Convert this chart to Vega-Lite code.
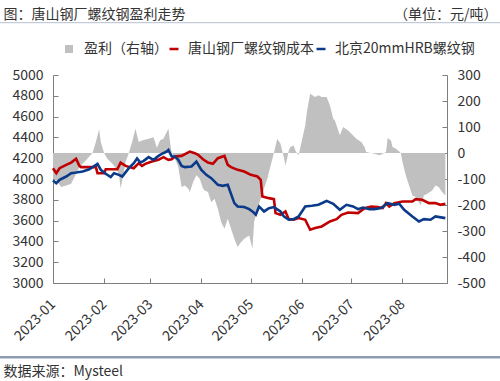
{
  "$schema": "https://vega.github.io/schema/vega-lite/v6.json",
  "width": 394,
  "height": 208,
  "autosize": "none",
  "padding": {"left": 53, "top": 75, "right": 53, "bottom": 98},
  "background": "white",
  "config": {
    "font": "Noto Sans CJK SC",
    "view": {"stroke": null},
    "axis": {
      "labelFont": "Noto Sans CJK SC",
      "labelFontSize": 14,
      "labelColor": "#333333",
      "titleFont": "Noto Sans CJK SC",
      "titleFontSize": 14,
      "titleFontWeight": "normal",
      "titleColor": "#333333",
      "domainColor": "#7f7f7f",
      "tickColor": "#7f7f7f",
      "grid": false,
      "tickSize": -5,
      "labelPadding": 15
    },
    "legend": {
      "labelFont": "Noto Sans CJK SC",
      "labelFontSize": 14,
      "labelColor": "#333333"
    }
  },
  "datasets": {
    "profit": [
      {"date": "2023/01/01", "profit": -100}, {"date": "2023/01/03", "profit": -105}, {"date": "2023/01/06", "profit": -131},
      {"date": "2023/01/09", "profit": -125}, {"date": "2023/01/12", "profit": -118}, {"date": "2023/01/14", "profit": -93},
      {"date": "2023/01/17", "profit": -54}, {"date": "2023/01/21", "profit": -28}, {"date": "2023/01/25", "profit": 0},
      {"date": "2023/01/27", "profit": 42}, {"date": "2023/01/29", "profit": 91}, {"date": "2023/01/30", "profit": 42},
      {"date": "2023/02/01", "profit": 0}, {"date": "2023/02/03", "profit": -22}, {"date": "2023/02/06", "profit": -41},
      {"date": "2023/02/08", "profit": -58}, {"date": "2023/02/10", "profit": -80}, {"date": "2023/02/11", "profit": -137},
      {"date": "2023/02/13", "profit": -73}, {"date": "2023/02/14", "profit": -35}, {"date": "2023/02/16", "profit": 0},
      {"date": "2023/02/18", "profit": 42}, {"date": "2023/02/20", "profit": 93}, {"date": "2023/02/22", "profit": 42},
      {"date": "2023/02/24", "profit": 48}, {"date": "2023/02/28", "profit": 55}, {"date": "2023/03/03", "profit": 61},
      {"date": "2023/03/05", "profit": 20}, {"date": "2023/03/07", "profit": 49}, {"date": "2023/03/09", "profit": 55},
      {"date": "2023/03/12", "profit": 93}, {"date": "2023/03/13", "profit": 42}, {"date": "2023/03/14", "profit": 0},
      {"date": "2023/03/16", "profit": -22}, {"date": "2023/03/18", "profit": -54}, {"date": "2023/03/20", "profit": -131},
      {"date": "2023/03/22", "profit": -125}, {"date": "2023/03/24", "profit": -137}, {"date": "2023/03/25", "profit": -150},
      {"date": "2023/03/27", "profit": -112}, {"date": "2023/03/29", "profit": -86}, {"date": "2023/03/31", "profit": -99},
      {"date": "2023/04/02", "profit": -137}, {"date": "2023/04/03", "profit": -144}, {"date": "2023/04/05", "profit": -150},
      {"date": "2023/04/07", "profit": -189}, {"date": "2023/04/09", "profit": -176}, {"date": "2023/04/11", "profit": -214},
      {"date": "2023/04/13", "profit": -265}, {"date": "2023/04/15", "profit": -291}, {"date": "2023/04/17", "profit": -253},
      {"date": "2023/04/19", "profit": -291}, {"date": "2023/04/21", "profit": -330}, {"date": "2023/04/23", "profit": -362},
      {"date": "2023/04/25", "profit": -343}, {"date": "2023/04/27", "profit": -330}, {"date": "2023/04/30", "profit": -317},
      {"date": "2023/05/02", "profit": -368}, {"date": "2023/05/03", "profit": -265}, {"date": "2023/05/05", "profit": -214},
      {"date": "2023/05/07", "profit": -176}, {"date": "2023/05/09", "profit": -137}, {"date": "2023/05/11", "profit": -99},
      {"date": "2023/05/12", "profit": -73}, {"date": "2023/05/15", "profit": 0}, {"date": "2023/05/17", "profit": 55},
      {"date": "2023/05/19", "profit": 36}, {"date": "2023/05/20", "profit": 10}, {"date": "2023/05/21", "profit": -15},
      {"date": "2023/05/22", "profit": -48}, {"date": "2023/05/23", "profit": -22}, {"date": "2023/05/24", "profit": 10},
      {"date": "2023/05/25", "profit": 23}, {"date": "2023/05/27", "profit": 29}, {"date": "2023/05/28", "profit": 10},
      {"date": "2023/05/30", "profit": -9}, {"date": "2023/06/01", "profit": 49}, {"date": "2023/06/03", "profit": 106},
      {"date": "2023/06/04", "profit": 158}, {"date": "2023/06/06", "profit": 228}, {"date": "2023/06/09", "profit": 215},
      {"date": "2023/06/11", "profit": 222}, {"date": "2023/06/13", "profit": 215}, {"date": "2023/06/16", "profit": 215},
      {"date": "2023/06/18", "profit": 183}, {"date": "2023/06/20", "profit": 132}, {"date": "2023/06/21", "profit": 125},
      {"date": "2023/06/24", "profit": 68}, {"date": "2023/06/26", "profit": 100}, {"date": "2023/06/29", "profit": 87},
      {"date": "2023/07/01", "profit": 74}, {"date": "2023/07/04", "profit": 55}, {"date": "2023/07/07", "profit": 42},
      {"date": "2023/07/09", "profit": 23}, {"date": "2023/07/10", "profit": 4}, {"date": "2023/07/12", "profit": 1},
      {"date": "2023/07/15", "profit": -3}, {"date": "2023/07/18", "profit": -9}, {"date": "2023/07/20", "profit": -3},
      {"date": "2023/07/22", "profit": 4}, {"date": "2023/07/23", "profit": 58}, {"date": "2023/07/25", "profit": 48},
      {"date": "2023/07/26", "profit": 23}, {"date": "2023/07/28", "profit": 16}, {"date": "2023/07/30", "profit": 6},
      {"date": "2023/07/31", "profit": 0}, {"date": "2023/08/01", "profit": -35}, {"date": "2023/08/03", "profit": -86},
      {"date": "2023/08/05", "profit": -125}, {"date": "2023/08/07", "profit": -163}, {"date": "2023/08/09", "profit": -169},
      {"date": "2023/08/12", "profit": -201}, {"date": "2023/08/14", "profit": -163}, {"date": "2023/08/16", "profit": -157},
      {"date": "2023/08/19", "profit": -144}, {"date": "2023/08/21", "profit": -125}, {"date": "2023/08/23", "profit": -131},
      {"date": "2023/08/25", "profit": -150}, {"date": "2023/08/27", "profit": -163}
    ],
    "prices": [
      {"date": "2023/01/01", "series": "唐山钢厂螺纹钢成本", "value": 4104}, {"date": "2023/01/03", "series": "唐山钢厂螺纹钢成本", "value": 4056},
      {"date": "2023/01/05", "series": "唐山钢厂螺纹钢成本", "value": 4104}, {"date": "2023/01/09", "series": "唐山钢厂螺纹钢成本", "value": 4136},
      {"date": "2023/01/12", "series": "唐山钢厂螺纹钢成本", "value": 4158}, {"date": "2023/01/15", "series": "唐山钢厂螺纹钢成本", "value": 4194},
      {"date": "2023/01/17", "series": "唐山钢厂螺纹钢成本", "value": 4126}, {"date": "2023/01/18", "series": "唐山钢厂螺纹钢成本", "value": 4114},
      {"date": "2023/01/27", "series": "唐山钢厂螺纹钢成本", "value": 4114}, {"date": "2023/01/28", "series": "唐山钢厂螺纹钢成本", "value": 4056},
      {"date": "2023/02/01", "series": "唐山钢厂螺纹钢成本", "value": 4056}, {"date": "2023/02/02", "series": "唐山钢厂螺纹钢成本", "value": 4094},
      {"date": "2023/02/09", "series": "唐山钢厂螺纹钢成本", "value": 4094}, {"date": "2023/02/11", "series": "唐山钢厂螺纹钢成本", "value": 4158},
      {"date": "2023/02/14", "series": "唐山钢厂螺纹钢成本", "value": 4126}, {"date": "2023/02/19", "series": "唐山钢厂螺纹钢成本", "value": 4104},
      {"date": "2023/02/20", "series": "唐山钢厂螺纹钢成本", "value": 4120}, {"date": "2023/02/22", "series": "唐山钢厂螺纹钢成本", "value": 4152},
      {"date": "2023/02/24", "series": "唐山钢厂螺纹钢成本", "value": 4126}, {"date": "2023/02/26", "series": "唐山钢厂螺纹钢成本", "value": 4146},
      {"date": "2023/03/02", "series": "唐山钢厂螺纹钢成本", "value": 4168}, {"date": "2023/03/06", "series": "唐山钢厂螺纹钢成本", "value": 4184},
      {"date": "2023/03/09", "series": "唐山钢厂螺纹钢成本", "value": 4210}, {"date": "2023/03/12", "series": "唐山钢厂螺纹钢成本", "value": 4184},
      {"date": "2023/03/14", "series": "唐山钢厂螺纹钢成本", "value": 4190}, {"date": "2023/03/16", "series": "唐山钢厂螺纹钢成本", "value": 4216},
      {"date": "2023/03/20", "series": "唐山钢厂螺纹钢成本", "value": 4222}, {"date": "2023/03/25", "series": "唐山钢厂螺纹钢成本", "value": 4264},
      {"date": "2023/03/28", "series": "唐山钢厂螺纹钢成本", "value": 4248}, {"date": "2023/03/30", "series": "唐山钢厂螺纹钢成本", "value": 4232},
      {"date": "2023/04/02", "series": "唐山钢厂螺纹钢成本", "value": 4190}, {"date": "2023/04/05", "series": "唐山钢厂螺纹钢成本", "value": 4158},
      {"date": "2023/04/08", "series": "唐山钢厂螺纹钢成本", "value": 4146}, {"date": "2023/04/11", "series": "唐山钢厂螺纹钢成本", "value": 4200},
      {"date": "2023/04/15", "series": "唐山钢厂螺纹钢成本", "value": 4222}, {"date": "2023/04/17", "series": "唐山钢厂螺纹钢成本", "value": 4136},
      {"date": "2023/04/19", "series": "唐山钢厂螺纹钢成本", "value": 4114}, {"date": "2023/04/23", "series": "唐山钢厂螺纹钢成本", "value": 4088},
      {"date": "2023/04/27", "series": "唐山钢厂螺纹钢成本", "value": 4072}, {"date": "2023/05/01", "series": "唐山钢厂螺纹钢成本", "value": 4040},
      {"date": "2023/05/05", "series": "唐山钢厂螺纹钢成本", "value": 4024}, {"date": "2023/05/07", "series": "唐山钢厂螺纹钢成本", "value": 3992},
      {"date": "2023/05/08", "series": "唐山钢厂螺纹钢成本", "value": 3832}, {"date": "2023/05/12", "series": "唐山钢厂螺纹钢成本", "value": 3816},
      {"date": "2023/05/15", "series": "唐山钢厂螺纹钢成本", "value": 3806}, {"date": "2023/05/16", "series": "唐山钢厂螺纹钢成本", "value": 3672},
      {"date": "2023/05/19", "series": "唐山钢厂螺纹钢成本", "value": 3656}, {"date": "2023/05/22", "series": "唐山钢厂螺纹钢成本", "value": 3688},
      {"date": "2023/05/24", "series": "唐山钢厂螺纹钢成本", "value": 3614}, {"date": "2023/05/27", "series": "唐山钢厂螺纹钢成本", "value": 3608},
      {"date": "2023/05/30", "series": "唐山钢厂螺纹钢成本", "value": 3624}, {"date": "2023/06/03", "series": "唐山钢厂螺纹钢成本", "value": 3608},
      {"date": "2023/06/06", "series": "唐山钢厂螺纹钢成本", "value": 3512}, {"date": "2023/06/09", "series": "唐山钢厂螺纹钢成本", "value": 3528},
      {"date": "2023/06/13", "series": "唐山钢厂螺纹钢成本", "value": 3544}, {"date": "2023/06/18", "series": "唐山钢厂螺纹钢成本", "value": 3592},
      {"date": "2023/06/22", "series": "唐山钢厂螺纹钢成本", "value": 3614}, {"date": "2023/06/25", "series": "唐山钢厂螺纹钢成本", "value": 3656},
      {"date": "2023/06/29", "series": "唐山钢厂螺纹钢成本", "value": 3678}, {"date": "2023/07/05", "series": "唐山钢厂螺纹钢成本", "value": 3672},
      {"date": "2023/07/09", "series": "唐山钢厂螺纹钢成本", "value": 3720}, {"date": "2023/07/13", "series": "唐山钢厂螺纹钢成本", "value": 3736},
      {"date": "2023/07/17", "series": "唐山钢厂螺纹钢成本", "value": 3730}, {"date": "2023/07/20", "series": "唐山钢厂螺纹钢成本", "value": 3720},
      {"date": "2023/07/22", "series": "唐山钢厂螺纹钢成本", "value": 3768}, {"date": "2023/07/24", "series": "唐山钢厂螺纹钢成本", "value": 3736},
      {"date": "2023/07/27", "series": "唐山钢厂螺纹钢成本", "value": 3768}, {"date": "2023/08/01", "series": "唐山钢厂螺纹钢成本", "value": 3784},
      {"date": "2023/08/07", "series": "唐山钢厂螺纹钢成本", "value": 3784}, {"date": "2023/08/09", "series": "唐山钢厂螺纹钢成本", "value": 3806},
      {"date": "2023/08/13", "series": "唐山钢厂螺纹钢成本", "value": 3800}, {"date": "2023/08/17", "series": "唐山钢厂螺纹钢成本", "value": 3768},
      {"date": "2023/08/21", "series": "唐山钢厂螺纹钢成本", "value": 3768}, {"date": "2023/08/24", "series": "唐山钢厂螺纹钢成本", "value": 3752},
      {"date": "2023/08/27", "series": "唐山钢厂螺纹钢成本", "value": 3762},
      {"date": "2023/01/01", "series": "北京20mmHRB螺纹钢", "value": 3986}, {"date": "2023/01/03", "series": "北京20mmHRB螺纹钢", "value": 3960},
      {"date": "2023/01/05", "series": "北京20mmHRB螺纹钢", "value": 3992}, {"date": "2023/01/09", "series": "北京20mmHRB螺纹钢", "value": 4024},
      {"date": "2023/01/12", "series": "北京20mmHRB螺纹钢", "value": 4056}, {"date": "2023/01/15", "series": "北京20mmHRB螺纹钢", "value": 4062},
      {"date": "2023/01/19", "series": "北京20mmHRB螺纹钢", "value": 4072}, {"date": "2023/01/23", "series": "北京20mmHRB螺纹钢", "value": 4094},
      {"date": "2023/01/28", "series": "北京20mmHRB螺纹钢", "value": 4146}, {"date": "2023/01/30", "series": "北京20mmHRB螺纹钢", "value": 4088},
      {"date": "2023/02/02", "series": "北京20mmHRB螺纹钢", "value": 4050}, {"date": "2023/02/05", "series": "北京20mmHRB螺纹钢", "value": 4018},
      {"date": "2023/02/07", "series": "北京20mmHRB螺纹钢", "value": 4056}, {"date": "2023/02/10", "series": "北京20mmHRB螺纹钢", "value": 4040},
      {"date": "2023/02/12", "series": "北京20mmHRB螺纹钢", "value": 4024}, {"date": "2023/02/16", "series": "北京20mmHRB螺纹钢", "value": 4104},
      {"date": "2023/02/19", "series": "北京20mmHRB螺纹钢", "value": 4152}, {"date": "2023/02/21", "series": "北京20mmHRB螺纹钢", "value": 4197},
      {"date": "2023/02/23", "series": "北京20mmHRB螺纹钢", "value": 4158}, {"date": "2023/02/25", "series": "北京20mmHRB螺纹钢", "value": 4174},
      {"date": "2023/02/28", "series": "北京20mmHRB螺纹钢", "value": 4210}, {"date": "2023/03/03", "series": "北京20mmHRB螺纹钢", "value": 4184},
      {"date": "2023/03/06", "series": "北京20mmHRB螺纹钢", "value": 4222}, {"date": "2023/03/08", "series": "北京20mmHRB螺纹钢", "value": 4242},
      {"date": "2023/03/11", "series": "北京20mmHRB螺纹钢", "value": 4264}, {"date": "2023/03/12", "series": "北京20mmHRB螺纹钢", "value": 4280},
      {"date": "2023/03/14", "series": "北京20mmHRB螺纹钢", "value": 4216}, {"date": "2023/03/16", "series": "北京20mmHRB螺纹钢", "value": 4216},
      {"date": "2023/03/18", "series": "北京20mmHRB螺纹钢", "value": 4184}, {"date": "2023/03/20", "series": "北京20mmHRB螺纹钢", "value": 4126},
      {"date": "2023/03/22", "series": "北京20mmHRB螺纹钢", "value": 4114}, {"date": "2023/03/26", "series": "北京20mmHRB螺纹钢", "value": 4120},
      {"date": "2023/03/29", "series": "北京20mmHRB螺纹钢", "value": 4168}, {"date": "2023/04/01", "series": "北京20mmHRB螺纹钢", "value": 4088},
      {"date": "2023/04/04", "series": "北京20mmHRB螺纹钢", "value": 4040}, {"date": "2023/04/07", "series": "北京20mmHRB螺纹钢", "value": 4008},
      {"date": "2023/04/11", "series": "北京20mmHRB螺纹钢", "value": 3944}, {"date": "2023/04/14", "series": "北京20mmHRB螺纹钢", "value": 3934},
      {"date": "2023/04/17", "series": "北京20mmHRB螺纹钢", "value": 3944}, {"date": "2023/04/21", "series": "北京20mmHRB螺纹钢", "value": 3768},
      {"date": "2023/04/23", "series": "北京20mmHRB螺纹钢", "value": 3736}, {"date": "2023/04/27", "series": "北京20mmHRB螺纹钢", "value": 3730},
      {"date": "2023/04/30", "series": "北京20mmHRB螺纹钢", "value": 3710}, {"date": "2023/05/02", "series": "北京20mmHRB螺纹钢", "value": 3688},
      {"date": "2023/05/04", "series": "北京20mmHRB螺纹钢", "value": 3656}, {"date": "2023/05/06", "series": "北京20mmHRB螺纹钢", "value": 3736},
      {"date": "2023/05/09", "series": "北京20mmHRB螺纹钢", "value": 3688}, {"date": "2023/05/12", "series": "北京20mmHRB螺纹钢", "value": 3720},
      {"date": "2023/05/15", "series": "北京20mmHRB螺纹钢", "value": 3730}, {"date": "2023/05/19", "series": "北京20mmHRB螺纹钢", "value": 3688},
      {"date": "2023/05/21", "series": "北京20mmHRB螺纹钢", "value": 3640}, {"date": "2023/05/24", "series": "北京20mmHRB螺纹钢", "value": 3608},
      {"date": "2023/05/27", "series": "北京20mmHRB螺纹钢", "value": 3614}, {"date": "2023/05/30", "series": "北京20mmHRB螺纹钢", "value": 3640},
      {"date": "2023/06/03", "series": "北京20mmHRB螺纹钢", "value": 3736}, {"date": "2023/06/07", "series": "北京20mmHRB螺纹钢", "value": 3742},
      {"date": "2023/06/11", "series": "北京20mmHRB螺纹钢", "value": 3752}, {"date": "2023/06/14", "series": "北京20mmHRB螺纹钢", "value": 3774},
      {"date": "2023/06/16", "series": "北京20mmHRB螺纹钢", "value": 3790}, {"date": "2023/06/20", "series": "北京20mmHRB螺纹钢", "value": 3762},
      {"date": "2023/06/24", "series": "北京20mmHRB螺纹钢", "value": 3704}, {"date": "2023/06/28", "series": "北京20mmHRB螺纹钢", "value": 3752},
      {"date": "2023/07/02", "series": "北京20mmHRB螺纹钢", "value": 3736}, {"date": "2023/07/05", "series": "北京20mmHRB螺纹钢", "value": 3710},
      {"date": "2023/07/08", "series": "北京20mmHRB螺纹钢", "value": 3726}, {"date": "2023/07/12", "series": "北京20mmHRB螺纹钢", "value": 3710},
      {"date": "2023/07/15", "series": "北京20mmHRB螺纹钢", "value": 3710}, {"date": "2023/07/19", "series": "北京20mmHRB螺纹钢", "value": 3720},
      {"date": "2023/07/23", "series": "北京20mmHRB螺纹钢", "value": 3768}, {"date": "2023/07/27", "series": "北京20mmHRB螺纹钢", "value": 3752},
      {"date": "2023/07/30", "series": "北京20mmHRB螺纹钢", "value": 3762}, {"date": "2023/08/02", "series": "北京20mmHRB螺纹钢", "value": 3704},
      {"date": "2023/08/07", "series": "北京20mmHRB螺纹钢", "value": 3640}, {"date": "2023/08/11", "series": "北京20mmHRB螺纹钢", "value": 3592},
      {"date": "2023/08/14", "series": "北京20mmHRB螺纹钢", "value": 3614}, {"date": "2023/08/18", "series": "北京20mmHRB螺纹钢", "value": 3608},
      {"date": "2023/08/21", "series": "北京20mmHRB螺纹钢", "value": 3640}, {"date": "2023/08/27", "series": "北京20mmHRB螺纹钢", "value": 3624}
    ],
    "frame": [{"k": 1}]
  },
  "layer": [
    {
      "data": {"name": "profit"},
      "mark": {"type": "area", "interpolate": "linear"},
      "encoding": {
        "x": {
          "field": "date", "type": "temporal",
          "scale": {"domain": ["2023-01-01T00:00", "2023-08-28T00:00"]},
          "axis": {
            "orient": "bottom",
            "tickCount": {"interval": "month", "step": 1},
            "format": "%Y-%m",
            "labelAngle": -45,
            "labelAlign": "right",
            "labelBaseline": "middle",
            "labelPadding": 24,
            "labelFlush": false,
            "labelOverlap": false,
            "title": "数据来源：Mysteel",
            "titleAngle": 0,
            "titleAlign": "left",
            "titleBaseline": "alphabetic",
            "titleX": -50,
            "titleY": 92
          }
        },
        "y": {
          "field": "profit", "type": "quantitative",
          "scale": {"domain": [-500, 300], "nice": false, "zero": false},
          "axis": {
            "orient": "right",
            "values": [-500, -400, -300, -200, -100, 0, 100, 200, 300],
            "labelExpr": "toString(datum.value)",
            "title": "（单位：元/吨）",
            "titleAngle": 0,
            "titleAlign": "right",
            "titleBaseline": "alphabetic",
            "titleX": 50,
            "titleY": -57
          }
        },
        "y2": {"datum": 0},
        "fill": {
          "datum": "盈利（右轴）", "type": "nominal",
          "scale": {"domain": ["盈利（右轴）"], "range": ["#c0c0c0"]},
          "legend": {
            "orient": "none", "legendX": 9, "legendY": -33, "title": null,
            "direction": "horizontal", "symbolType": "square", "symbolSize": 64,
            "labelOffset": 8
          }
        }
      }
    },
    {
      "data": {"name": "prices"},
      "mark": {"type": "line", "strokeWidth": 2.6, "interpolate": "linear"},
      "encoding": {
        "x": {"field": "date", "type": "temporal", "axis": null},
        "y": {
          "field": "value", "type": "quantitative",
          "scale": {"domain": [3000, 5000], "nice": false, "zero": false},
          "axis": {
            "orient": "left",
            "values": [3000, 3200, 3400, 3600, 3800, 4000, 4200, 4400, 4600, 4800, 5000],
            "labelExpr": "toString(datum.value)",
            "title": "图：唐山钢厂螺纹钢盈利走势",
            "titleAngle": 0,
            "titleAlign": "left",
            "titleBaseline": "alphabetic",
            "titleX": -50,
            "titleY": -57
          }
        },
        "stroke": {
          "field": "series", "type": "nominal",
          "scale": {"domain": ["唐山钢厂螺纹钢成本", "北京20mmHRB螺纹钢"], "range": ["#c00000", "#0b3a8a"]},
          "legend": {
            "orient": "none", "legendX": 114, "legendY": -33, "title": null,
            "direction": "horizontal", "symbolType": "stroke", "symbolSize": 81,
            "symbolStrokeWidth": 2.5, "labelOffset": 7, "columnPadding": -8
          }
        }
      }
    },
    {
      "data": {"name": "frame"},
      "mark": {"type": "rule", "color": "#b4c0ce", "strokeWidth": 1},
      "encoding": {
        "x": {"datum": 1660000000000, "type": "temporal", "axis": null},
        "x2": {"datum": 1700000000000},
        "y": {"datum": 5503, "type": "quantitative", "scale": {"domain": [3000, 5000], "nice": false, "zero": false}, "axis": null}
      }
    },
    {
      "data": {"name": "frame"},
      "mark": {"type": "rule", "color": "#8e9db1", "strokeWidth": 2.5},
      "encoding": {
        "x": {"datum": 1660000000000, "type": "temporal", "axis": null},
        "x2": {"datum": 1700000000000},
        "y": {"datum": 2286, "type": "quantitative", "scale": {"domain": [3000, 5000], "nice": false, "zero": false}, "axis": null}
      }
    }
  ],
  "resolve": {"scale": {"y": "independent"}, "axis": {"y": "independent", "x": "independent"}}
}
